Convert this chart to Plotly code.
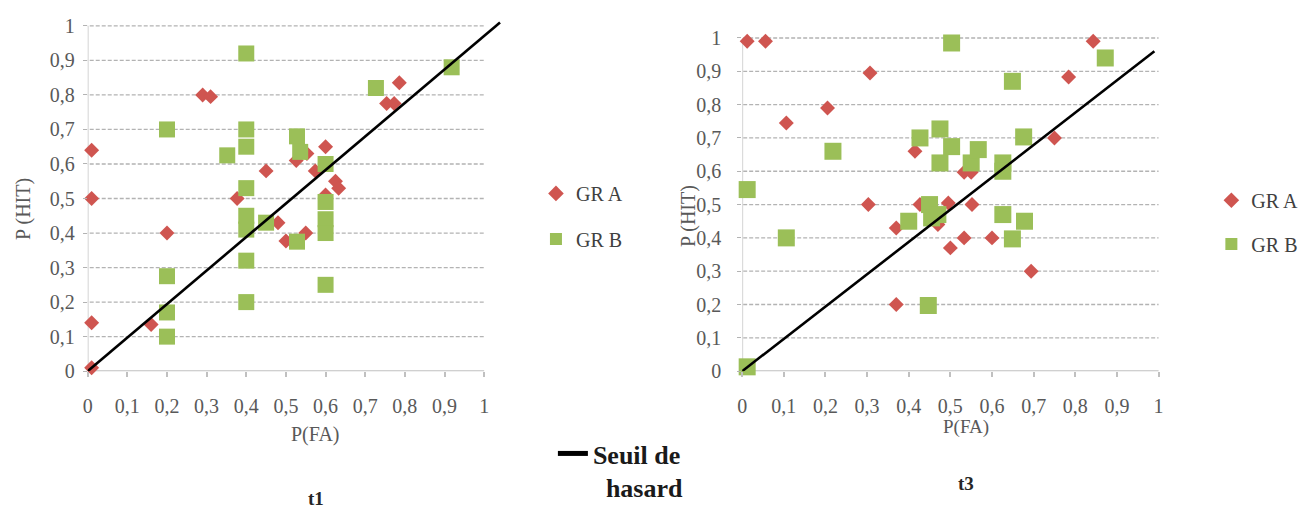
import plotly.graph_objects as go

# ---------------- data ----------------
tick_vals = [0, 0.1, 0.2, 0.3, 0.4, 0.5, 0.6, 0.7, 0.8, 0.9, 1]
tick_text = ["0", "0,1", "0,2", "0,3", "0,4", "0,5", "0,6", "0,7", "0,8", "0,9", "1"]

# t1 - GR A
t1_a_x = [0.01, 0.01, 0.01, 0.01, 0.16, 0.20, 0.29, 0.31, 0.377, 0.45, 0.48, 0.50,
          0.526, 0.553, 0.55, 0.574, 0.60, 0.60, 0.625, 0.633, 0.754, 0.773, 0.786]
t1_a_y = [0.64, 0.50, 0.14, 0.01, 0.135, 0.40, 0.80, 0.795, 0.50, 0.58, 0.43, 0.377,
          0.61, 0.63, 0.40, 0.58, 0.65, 0.51, 0.55, 0.53, 0.775, 0.775, 0.835]
# t1 - GR B
t1_b_x = [0.20, 0.20, 0.20, 0.20, 0.352, 0.40, 0.40, 0.40, 0.40, 0.40, 0.40, 0.40,
          0.40, 0.45, 0.528, 0.536, 0.528, 0.60, 0.60, 0.60, 0.60, 0.60, 0.727, 0.918]
t1_b_y = [0.70, 0.275, 0.17, 0.10, 0.625, 0.92, 0.70, 0.65, 0.53, 0.45, 0.41, 0.32,
          0.20, 0.43, 0.68, 0.635, 0.375, 0.60, 0.49, 0.44, 0.40, 0.25, 0.82, 0.88]

# t3 - GR A
t3_a_x = [0.012, 0.056, 0.106, 0.205, 0.307, 0.303, 0.37, 0.37, 0.415, 0.427, 0.47,
          0.495, 0.50, 0.533, 0.533, 0.55, 0.552, 0.60, 0.694, 0.75, 0.784, 0.843]
t3_a_y = [0.99, 0.99, 0.745, 0.79, 0.895, 0.50, 0.43, 0.20, 0.66, 0.50, 0.44,
          0.505, 0.37, 0.40, 0.597, 0.597, 0.50, 0.40, 0.30, 0.70, 0.883, 0.99]
# t3 - GR B
t3_b_x = [0.012, 0.012, 0.106, 0.218, 0.40, 0.427, 0.447, 0.45, 0.455, 0.475, 0.475,
          0.503, 0.503, 0.47, 0.55, 0.567, 0.626, 0.626, 0.626, 0.649, 0.649, 0.676,
          0.678, 0.872]
t3_b_y = [0.545, 0.013, 0.40, 0.66, 0.45, 0.70, 0.197, 0.50, 0.46, 0.727, 0.625,
          0.985, 0.674, 0.47, 0.625, 0.665, 0.625, 0.60, 0.47, 0.87, 0.397, 0.703,
          0.45, 0.94]

# "Seuil de hasard" lines (start / end points)
t1_line_x = [0, 1.04]
t1_line_y = [0, 1.01]
t3_line_x = [0, 0.99]
t3_line_y = [0, 0.96]

# ---------------- style ----------------
W, H = 1306, 523
RED = "#cf5550"
GREEN = "#9bbf58"
FONT = "'Liberation Serif', 'Times New Roman', Tinos, 'DejaVu Serif', serif"
TICK_COLOR = "#595959"
GRID_COLOR = "#b3b3b3"


def px_x(p):
    return p / W


def px_y(p):
    return (H - p) / H


fig = go.Figure()

fig.add_trace(go.Scatter(x=t1_a_x, y=t1_a_y, mode="markers", name="GR A",
                         marker=dict(symbol="diamond", size=11.5, color=RED),
                         cliponaxis=False, xaxis="x", yaxis="y", legend="legend"))
fig.add_trace(go.Scatter(x=t1_b_x, y=t1_b_y, mode="markers", name="GR B",
                         marker=dict(symbol="square", size=16, color=GREEN),
                         cliponaxis=False, xaxis="x", yaxis="y", legend="legend2"))
fig.add_trace(go.Scatter(x=t1_line_x, y=t1_line_y, mode="lines",
                         name="<b>Seuil de</b><br><b>&nbsp;&nbsp;hasard</b>",
                         line=dict(color="black", width=2.6),
                         xaxis="x", yaxis="y", legend="legend5"))

fig.add_trace(go.Scatter(x=t3_a_x, y=t3_a_y, mode="markers", name="GR A",
                         marker=dict(symbol="diamond", size=11.5, color=RED),
                         cliponaxis=False, xaxis="x2", yaxis="y2", legend="legend3"))
fig.add_trace(go.Scatter(x=t3_b_x, y=t3_b_y, mode="markers", name="GR B",
                         marker=dict(symbol="square", size=17, color=GREEN),
                         cliponaxis=False, xaxis="x2", yaxis="y2", legend="legend4"))
fig.add_trace(go.Scatter(x=t3_line_x, y=t3_line_y, mode="lines", name="Seuil de hasard",
                         line=dict(color="black", width=2.6), showlegend=False,
                         xaxis="x2", yaxis="y2"))

# axes geometry (pixels)
L_x0, L_unitx = 83, 398
L_y0, L_unity = 378, 355.5
R_x0, R_unitx = 740, 418
R_y0, R_unity = 378, 343

xr_l = [0, 1.05]
yr_l = [0, 1.02]
xr_r = [0, 1.02]
yr_r = [0, 1.03]

common_x = dict(tickmode="array", tickvals=tick_vals, ticktext=tick_text, showgrid=False,
                zeroline=False, showline=False, ticks="outside", ticklen=5, tickwidth=1.5,
                tickcolor="#c0c0c0", tickfont=dict(family=FONT, size=20, color=TICK_COLOR),
                ticklabelstandoff=12, fixedrange=True)
common_y = dict(tickmode="array", tickvals=tick_vals, ticktext=tick_text, showgrid=False,
                zeroline=False, showline=False, ticks="outside", ticklen=4, tickwidth=1.2,
                tickcolor=GRID_COLOR, tickfont=dict(family=FONT, size=20, color=TICK_COLOR),
                fixedrange=True)

fig.update_layout(
    xaxis=dict(common_x, range=xr_l,
               domain=[px_x(L_x0), px_x(L_x0 + xr_l[1] * L_unitx)], anchor="y"),
    yaxis=dict(common_y, range=yr_l, ticklabelstandoff=4,
               domain=[px_y(L_y0), px_y(L_y0 - yr_l[1] * L_unity)], anchor="x"),
    xaxis2=dict(common_x, range=xr_r,
                domain=[px_x(R_x0), px_x(R_x0 + xr_r[1] * R_unitx)], anchor="y2"),
    yaxis2=dict(common_y, range=yr_r, ticklabelstandoff=12,
                domain=[px_y(R_y0), px_y(R_y0 - yr_r[1] * R_unity)], anchor="x2"),
)

# gridlines and axis lines as shapes
shapes = []
for xa, ya, x_left in (("x", "y", -0.01), ("x2", "y2", -0.012)):
    for v in tick_vals[1:]:
        shapes.append(dict(type="line", xref=xa, yref=ya, x0=x_left, x1=1, y0=v, y1=v,
                           line=dict(color=GRID_COLOR, width=1.3, dash="4px,2px"),
                           layer="below"))
    shapes.append(dict(type="line", xref=xa, yref=ya, x0=0, x1=0, y0=0, y1=1,
                       line=dict(color="#d4d4d4", width=2), layer="below"))
    shapes.append(dict(type="line", xref=xa, yref=ya, x0=0, x1=1, y0=0, y1=0,
                       line=dict(color="#c0c0c0", width=2), layer="below"))
fig.update_layout(shapes=shapes)


def note(text, xp, yp, size=20, color=TICK_COLOR, angle=0):
    return dict(text=text, x=px_x(xp), y=px_y(yp), xref="paper", yref="paper",
                xanchor="center", yanchor="middle", showarrow=False, textangle=angle,
                font=dict(family=FONT, size=size, color=color))


ann = [
    note("P(FA)", 312, 443),
    note("P(FA)", 965, 435, size=19),
    note("P (HIT)", 19, 211, angle=-90),
    note("P (HIT)", 686, 218, angle=-90),
    note("<b>t1</b>", 312, 509, size=19, color="#262626"),
    note("<b>t3</b>", 965, 494, size=19, color="#262626"),
]
fig.update_layout(annotations=ann)

# legends
leg_font = dict(family=FONT, size=20, color="#404040")


def leg(xpx, ypx, **kw):
    d = dict(x=px_x(xpx), y=px_y(ypx), xanchor="left", yanchor="middle",
             bgcolor="rgba(0,0,0,0)", font=leg_font, itemsizing="constant",
             borderwidth=0)
    d.update(kw)
    return d


fig.update_layout(
    legend=leg(533, 195),
    legend2=leg(533, 242),
    legend3=leg(1211, 202),
    legend4=leg(1211, 247),
    # kept fully inside the figure so it does not push the margins
    legend5=leg(550, 522, yanchor="bottom", valign="top",
                font=dict(family=FONT, size=26, color="#1a1a1a")),
)

fig.update_layout(
    width=W, height=H, autosize=False,
    margin=dict(l=0, r=0, t=0, b=0, pad=0),
    paper_bgcolor="white", plot_bgcolor="white",
    showlegend=True,
)

fig.write_html("out.html")
